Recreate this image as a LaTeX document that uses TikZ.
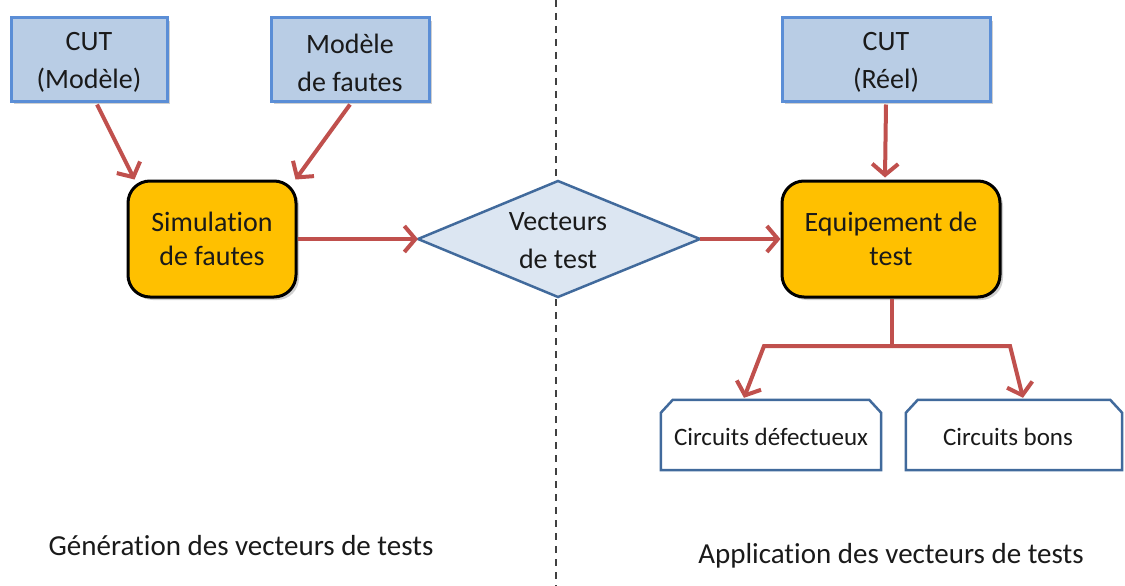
\documentclass[tikz,border=0pt]{standalone}
\usepackage{fontspec}
\setmainfont[Ligatures={NoCommon}]{Carlito}
\usetikzlibrary{arrows.meta,shadows,calc}
\definecolor{boxblue}{HTML}{B9CDE5}
\definecolor{boxblueline}{HTML}{5B8ED6}
\definecolor{procfill}{HTML}{FFC000}
\definecolor{diafill}{HTML}{DCE6F2}
\definecolor{diline}{HTML}{416A9C}
\definecolor{arrowred}{HTML}{C0504D}
\definecolor{txt}{HTML}{1A1A1A}
\tikzset{
  inbox/.style={rectangle, draw=boxblueline, line width=3pt, fill=boxblue,
    minimum width=#1, minimum height=83pt, align=center, text=txt,
    font=\fontsize{28}{38}\selectfont,
    drop shadow={shadow xshift=3pt, shadow yshift=-3pt, opacity=0.3, fill=black!60}},
  proc/.style={rectangle, rounded corners=22pt, draw=black, line width=3pt, fill=procfill,
    minimum width=#1, minimum height=116pt, align=center, text=txt,
    font=\fontsize{28}{34}\selectfont,
    drop shadow={shadow xshift=3pt, shadow yshift=-3pt, opacity=0.3, fill=black!60}},
  outframe/.style={draw=diline, line width=2.5pt, fill=white, line join=miter},
  flow/.style={draw=arrowred, line width=4pt,
    -{Straight Barb[length=11pt,width=26pt,line width=4pt]}},
  caption/.style={font=\fontsize{29}{34}\selectfont, text=txt},
}
\begin{document}
\begin{tikzpicture}[x=1pt,y=-1pt]
\useasboundingbox[fill=white] (0,0) rectangle (1125,586);

% separator between the two phases
\draw[black!75, line width=1.5pt, dash pattern=on 7pt off 6pt] (556,0) -- (556,586);

% input blocks
\node[inbox=156pt] (cutm) at (89,59.5) {};
\node[inbox=158pt] (faults) at (350,59.5) {};
\node[inbox=208pt] (cutr) at (886,59.5) {};
\node[align=center, text=txt, font=\fontsize{28}{38}\selectfont] at ($(cutm.center)+(0,3)$) {CUT\\(Modèle)};
\node[align=center, text=txt, font=\fontsize{28}{38}\selectfont] at ($(faults.center)+(0,3)$) {Modèle\\de fautes};
\node[align=center, text=txt, font=\fontsize{28}{38}\selectfont] at ($(cutr.center)+(0,3)$) {CUT\\(Réel)};

% processing blocks
\node[proc=168pt] (sim) at (212,239) {Simulation\\de fautes};
\node[proc=218pt] (equip) at (891,239) {Equipement de\\test};

% test vectors (decision shape drawn from named corners)
\coordinate (vl) at (418,239);
\coordinate (vt) at (558,181);
\coordinate (vr) at (700,239);
\coordinate (vb) at (558,297);
\draw[draw=diline, line width=2.5pt, fill=diafill, line join=miter]
  (vl) -- (vt) -- (vr) -- (vb) -- cycle;
\node[align=center, text=txt, font=\fontsize{28}{38}\selectfont] (vec) at (558,241) {Vecteurs\\de test};

% result blocks with snipped top corners
\node[minimum width=220pt, minimum height=70pt] (bad) at (771,435) {};
\node[minimum width=216pt, minimum height=70pt] (good) at (1014,435) {};
\foreach \b in {bad,good}{
  \draw[outframe] (\b.south west) -- ($(\b.north west)+(0,13)$) -- ($(\b.north west)+(12,0)$)
    -- ($(\b.north east)+(-12,0)$) -- ($(\b.north east)+(0,13)$) -- (\b.south east) -- cycle;
}
\node[font=\fontsize{25}{30}\selectfont, text=txt] (badtxt) at ($(bad.center)+(0,2)$) {Circuits défectueux};
\node[font=\fontsize{25}{30}\selectfont, text=txt] (goodtxt) at ($(good.center)+(-6,2)$) {Circuits bons};

% connectors
\draw[flow] ($(cutm.south)+(8,2)$) -- ($(sim.north west)+(8,0)$);
\draw[flow] ($(faults.south)+(0,2)$) -- ($(sim.north east)+(-2,0)$);
\draw[flow] (sim.east) -- (vl);
\draw[flow] (vr) -- (equip.west);
\draw[flow] ($(cutr.south)+(0,2)$) -- ($(equip.north)+(-6,-2)$);
\coordinate (split) at (892,346);
\coordinate (lc) at (764,346);
\coordinate (rc) at (1010,346);
\draw[draw=arrowred, line width=4pt] ($(equip.south)+(1,0)$) -- (split);
\draw[flow, line join=miter] (split) -- (lc) -- ($(bad.north)+(-27,-2)$);
\draw[flow, line join=miter] (split) -- (rc) -- ($(good.north)+(9,-2)$);

% phase captions
\node[caption] (gen) at (241,546) {Génération des vecteurs de tests};
\node[caption] (app) at (891,556) {Application des vecteurs de tests};
\end{tikzpicture}
\end{document}
